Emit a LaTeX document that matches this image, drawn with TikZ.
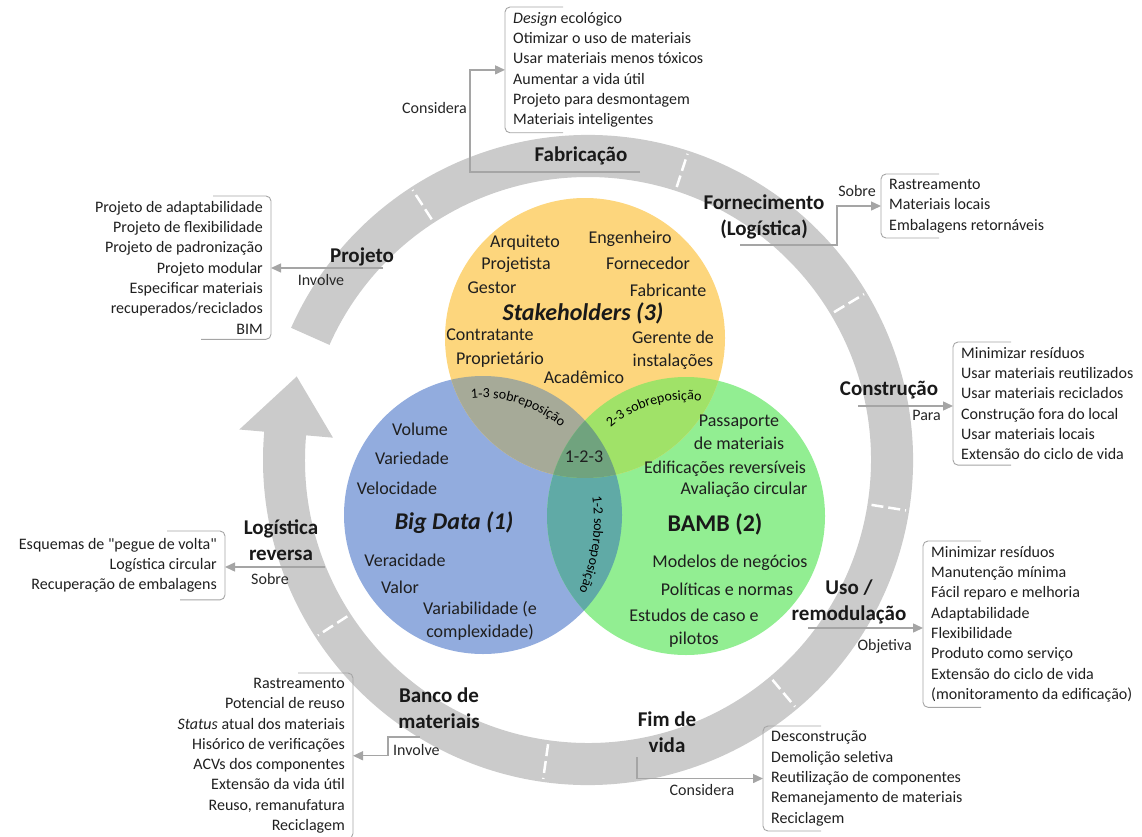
\documentclass[tikz,border=0pt]{standalone}
\usepackage{fontspec}
\setmainfont{Carlito}[Ligatures=TeXOff]
\usetikzlibrary{arrows.meta,decorations.text}

\definecolor{ringgray}{RGB}{203,203,203}
\definecolor{linkgray}{RGB}{165,165,165}
\definecolor{yellowset}{RGB}{253,214,125}
\definecolor{blueset}{RGB}{146,172,222}
\definecolor{greenset}{RGB}{146,238,146}
\definecolor{blueyellow}{RGB}{166,170,152}
\definecolor{greenyellow}{RGB}{160,226,104}
\definecolor{bluegreen}{RGB}{96,170,166}
\definecolor{allthree}{RGB}{112,163,126}

\begin{document}
\begin{tikzpicture}[x=1pt, y=-1pt,
    stage/.style={font=\fontsize{21}{25.5}\selectfont\bfseries, align=center, inner sep=0pt, text=black!90},
    member/.style={font=\fontsize{18}{23}\selectfont, align=center, inner sep=0pt, text=black!88},
    settitle/.style={font=\fontsize{24}{28}\selectfont\bfseries, inner sep=0pt, text=black!90},
    listR/.style={font=\fontsize{16}{20.3}\selectfont, align=left, inner xsep=8pt, inner ysep=5pt, anchor=north west, text=black!88},
    listL/.style={font=\fontsize{16}{20.3}\selectfont, align=right, inner xsep=8pt, inner ysep=5pt, anchor=north east, text=black!88},
    verb/.style={font=\fontsize{16}{19}\selectfont, inner sep=0pt, text=black!85},
    link/.style={draw=linkgray, line width=1.4pt, -{Triangle[length=10pt,width=9pt]}},
    bracket/.style={draw=linkgray, line width=0.9pt, rounded corners=5pt}]

    \useasboundingbox (0,0) rectangle (1142,837);

    % Draw the cycle ring with its arrow head
    \begin{scope}[shift={(588,460)}]
        \fill[ringgray] (-156:325) arc[start angle=-156, end angle=185, radius=325]
            -- (185:350) -- (196:303) -- (185:256) -- (185:283)
            arc[start angle=185, end angle=-156, radius=283] -- cycle;
        \foreach \a in {-123,-72,-31,9,50,98,147}
            \draw[white, line width=2.5pt, dash pattern=on 12pt off 5pt] (\a:287) -- (\a:322);
    \end{scope}

    % Draw the three sets
    \fill[blueset] (483,515) circle (139);
    \fill[greenset] (686,516) circle (139);
    \fill[yellowset] (585,338) circle (140);
    \begin{scope}
        \clip (483,515) circle (139);
        \fill[blueyellow] (585,338) circle (140);
        \fill[bluegreen] (686,516) circle (139);
    \end{scope}
    \begin{scope}
        \clip (686,516) circle (139);
        \fill[greenyellow] (585,338) circle (140);
    \end{scope}
    \begin{scope}
        \clip (483,515) circle (139);
        \clip (686,516) circle (139);
        \fill[allthree] (585,338) circle (140);
    \end{scope}

    % Overlap labels
    \path[decorate, decoration={text along path, text align=center,
        text={|\fontsize{14}{16}\selectfont|1-3 sobreposição}}]
        (483,515) ++(-100:117) arc[start angle=-100, end angle=-44, radius=117];
    \path[decorate, decoration={text along path, text align=center,
        text={|\fontsize{14}{16}\selectfont|2-3 sobreposição}}]
        (686,516) ++(-135:116) arc[start angle=-135, end angle=-78, radius=116];
    \path[decorate, decoration={text along path, text align=center,
        text={|\fontsize{14}{16}\selectfont|1-2 sobreposição}}]
        (415,520) ++(-10:179) arc[start angle=-10, end angle=26, radius=179];
    \node[member] (c123) at (584,457) {1-2-3};

    % Stakeholders (3)
    \node[member] (arq) at (525,243) {Arquiteto};
    \node[member] (pjt) at (516,265) {Projetista};
    \node[member] (ges) at (492,288) {Gestor};
    \node[member] (eng) at (630,239) {Engenheiro};
    \node[member] (forc) at (648,263) {Fornecedor};
    \node[member] (fabc) at (668,290) {Fabricante};
    \node[settitle] (stk) at (583,313) {\textit{Stakeholders (3)}};
    \node[member] (ctr) at (490,335) {Contratante};
    \node[member] (prp) at (500,360) {Proprietário};
    \node[member] (acd) at (584,377) {Acadêmico};
    \node[member] (ger) at (673,350) {Gerente de\\instalações};

    % Big Data (1)
    \node[member] (vol) at (420,429) {Volume};
    \node[member] (vari) at (412,458) {Variedade};
    \node[member] (vel) at (397,488) {Velocidade};
    \node[settitle] (bd) at (454,523) {\textit{Big Data (1)}};
    \node[member] (ver) at (405,560) {Veracidade};
    \node[member] (val) at (400,587) {Valor};
    \node[member] (vab) at (480,621) {Variabilidade (e\\complexidade)};

    % BAMB (2)
    \node[member] (pas) at (739,432) {Passaporte\\de materiais};
    \node[member] (edi) at (725,469) {Edificações reversíveis};
    \node[member] (ava) at (744,490) {Avaliação circular};
    \node[settitle] (bamb) at (715,524) {BAMB (2)};
    \node[member] (mod) at (730,563) {Modelos de negócios};
    \node[member] (pol) at (727,589) {Políticas e normas};
    \node[member] (est) at (694,628) {Estudos de caso e\\pilotos};

    % Stages of the cycle
    \node[stage] (fab) at (581,156) {Fabricação};
    \node[stage] (forn) at (764,217) {Fornecimento\\(Logística)};
    \node[stage] (proj) at (362,257) {Projeto};
    \node[stage] (cons) at (889,390) {Construção};
    \node[stage] (logr) at (281,540) {Logística\\reversa};
    \node[stage] (uso) at (849,602) {Uso /\\remodulação};
    \node[stage] (banco) at (439,708) {Banco de\\materiais};
    \node[stage] (fim) at (667,732) {Fim de\\vida};

    % Lists
    \node[listR] (fabList) at (505,7) {\textit{Design} ecológico\\Otimizar o uso de materiais\\Usar materiais menos tóxicos\\Aumentar a vida útil\\Projeto para desmontagem\\Materiais inteligentes};
    \node[listR] (fornList) at (881,174) {Rastreamento\\Materiais locais\\Embalagens retornáveis};
    \node[listL] (projList) at (271,196) {Projeto de adaptabilidade\\Projeto de flexibilidade\\Projeto de padronização\\Projeto modular\\Especificar materiais\\recuperados/reciclados\\BIM};
    \node[listR] (consList) at (953,342) {Minimizar resíduos\\Usar materiais reutilizados\\Usar materiais reciclados\\Construção fora do local\\Usar materiais locais\\Extensão do ciclo de vida};
    \node[listL, inner ysep=7pt] (logrList) at (225,531) {Esquemas de "pegue de volta"\\Logística circular\\Recuperação de embalagens};
    \node[listR] (usoList) at (923,541) {Minimizar resíduos\\Manutenção mínima\\Fácil reparo e melhoria\\Adaptabilidade\\Flexibilidade\\Produto como serviço\\Extensão do ciclo de vida\\(monitoramento da edificação)};
    \node[listL] (bancoList) at (353,673) {Rastreamento\\Potencial de reuso\\\textit{Status} atual dos materiais\\Hisórico de verificações\\ACVs dos componentes\\Extensão da vida útil\\Reuso, remanufatura\\Reciclagem};
    \node[listR] (fimList) at (763,726) {Desconstrução\\Demolição seletiva\\Reutilização de componentes\\Remanejamento de materiais\\Reciclagem};

    % Brackets
    \draw[bracket] ([xshift=58pt]fabList.north west) -- (fabList.north west) -- (fabList.south west) -- ([xshift=58pt]fabList.south west);
    \draw[bracket] ([xshift=58pt]fornList.north west) -- (fornList.north west) -- (fornList.south west) -- ([xshift=58pt]fornList.south west);
    \draw[bracket] ([xshift=58pt]consList.north west) -- (consList.north west) -- (consList.south west) -- ([xshift=58pt]consList.south west);
    \draw[bracket] ([xshift=58pt]usoList.north west) -- (usoList.north west) -- (usoList.south west) -- ([xshift=58pt]usoList.south west);
    \draw[bracket] ([xshift=58pt]fimList.north west) -- (fimList.north west) -- (fimList.south west) -- ([xshift=58pt]fimList.south west);
    \draw[bracket] ([xshift=-58pt]projList.north east) -- (projList.north east) -- (projList.south east) -- ([xshift=-70pt]projList.south east);
    \draw[bracket] ([xshift=-58pt]logrList.north east) -- (logrList.north east) -- (logrList.south east) -- ([xshift=-45pt]logrList.south east);
    \draw[bracket] ([xshift=-55pt]bancoList.north east) -- (bancoList.north east) -- (bancoList.south east) -- ([xshift=-55pt]bancoList.south east);

    % Connectors
    \coordinate (fabU) at (640,172);
    \coordinate (fornU) at (740,245);
    \coordinate (projU) at (383,268);
    \coordinate (consU) at (858,406);
    \coordinate (logrU) at (325,567);
    \coordinate (usoU) at (808,628);
    \coordinate (bancoU) at (420,737);
    \coordinate (fimU) at (637,757);
    \draw[link] (fabU) -| ([xshift=-35pt]fabList.west) -- (fabList.west);
    \draw[link] (fornU) -| ([xshift=-44pt]fornList.west) -- (fornList.west);
    \draw[link] (projU) -- (projU -| projList.east);
    \draw[link] (consU) -- (consU -| consList.west);
    \draw[link] (logrU) -- (logrU -| logrList.east);
    \draw[link] (usoU) -- (usoU -| usoList.west);
    \draw[link] (bancoU) -| ([xshift=35pt]bancoList.east) -- (bancoList.east);
    \draw[link] (fimU) |- (fimList.west);

    % Connector labels
    \node[verb, anchor=east] (fabV) at (467,108) {Considera};
    \node[verb] (fornV) at (857,191) {Sobre};
    \node[verb] (projV) at (321,280) {Involve};
    \node[verb, anchor=east] (consV) at (941,415) {Para};
    \node[verb] (logrV) at (270,579) {Sobre};
    \node[verb, anchor=east] (usoV) at (912,646) {Objetiva};
    \node[verb, anchor=west] (bancoV) at (393,750) {Involve};
    \node[verb] (fimV) at (702,790) {Considera};
\end{tikzpicture}
\end{document}
